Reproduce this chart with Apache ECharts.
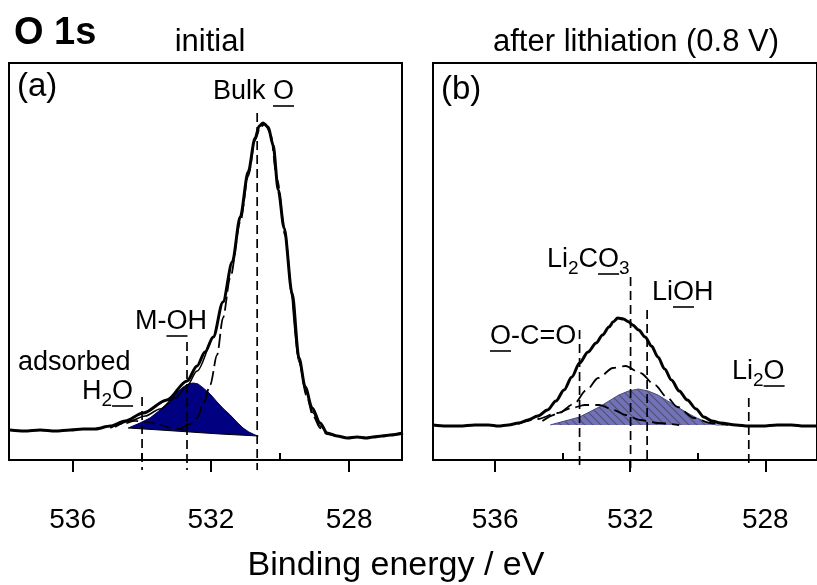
<!DOCTYPE html>
<html><head><meta charset="utf-8">
<script src="https://cdn.jsdelivr.net/npm/echarts@6/dist/echarts.min.js"></script>
<style>html,body{margin:0;padding:0;background:#fff;}#c{width:817px;height:585px;}</style>
</head><body><div id="c"></div>
<script>
// ---------- data: [binding energy (eV), intensity (a.u.)] ----------
const majorTicks = [528, 532, 536];
const minorTicks = [530, 534];

// panel (a) initial
const envA = [[537.81,7.56],[537.40,7.30],[536.94,7.56],[536.50,7.30],[536.07,7.56],[535.70,7.81],[535.35,7.81],[534.91,8.56],[534.48,9.82],[533.96,11.84],[533.27,15.11],[532.69,19.90],[532.40,23.68],[532.17,27.20],[531.93,30.98],[531.65,39.80],[531.38,49.87],[531.15,61.21],[530.92,72.54],[530.72,81.11],[530.60,84.13],[530.49,84.89],[530.34,83.88],[530.20,79.35],[530.05,68.01],[529.88,58.44],[529.65,42.07],[529.45,25.69],[529.27,18.39],[529.07,13.10],[528.84,9.32],[528.64,6.80],[528.35,6.05],[528.05,5.54],[527.77,5.79],[527.50,5.54],[527.31,5.79],[527.05,6.05],[526.81,6.30],[526.44,6.80]];
const bulkA = [[532.89,7.81],[532.60,9.07],[532.40,10.58],[532.22,14.11],[532.02,18.89],[531.82,26.45],[531.65,35.77],[531.44,45.84],[531.15,59.95],[530.92,71.54],[530.72,80.60],[530.57,83.88],[530.43,84.63],[530.28,82.37],[530.08,70.53],[529.85,56.68],[529.65,41.31],[529.45,25.19],[529.24,16.37],[529.04,11.08],[528.84,8.06],[528.64,6.55],[528.40,6.05]];
const mohA = [[534.39,8.06],[534.05,9.32],[533.76,10.58],[533.47,12.59],[533.28,14.11],[533.09,15.87],[532.95,17.13],[532.80,18.39],[532.65,19.15],[532.51,19.40],[532.37,19.15],[532.22,18.14],[532.02,16.62],[531.82,14.61],[531.63,12.85],[531.44,11.34],[531.25,9.57],[531.07,8.06],[530.90,7.05],[530.72,6.30],[530.63,6.05]];
const bgA = [[534.39,8.06],[533.47,7.56],[532.60,7.05],[531.73,6.55],[530.63,6.05]];
const h2oA = [[534.91,8.06],[534.57,9.07],[534.19,9.82],[533.82,9.57],[533.47,8.82],[533.12,8.06],[532.74,7.56]];
const fitA1 = [[534.77,8.31],[534.34,9.82],[533.90,11.08],[533.47,12.85],[533.03,15.62],[532.69,18.64],[532.40,22.42],[532.11,27.71]];
const fitA2 = [[529.65,41.31],[529.45,24.69],[529.24,17.13],[529.04,11.84],[528.84,8.56],[528.64,6.80]];
const vH2O = [[533.99,15.87],[533.99,-2.52]];
const vMOH = [[532.69,29.72],[532.69,-2.52]];
const vBulk = [[530.66,87.41],[530.66,-2.52]];

// panel (b) after lithiation
const envB = [[537.84,8.82],[537.45,8.56],[537.06,8.56],[536.60,8.82],[536.19,8.82],[535.90,8.56],[535.61,8.82],[535.30,9.32],[535.03,10.08],[534.74,11.08],[534.45,12.59],[534.20,14.86],[533.96,17.63],[533.73,20.90],[533.50,24.43],[533.25,27.20],[533.01,29.47],[532.82,31.50],[532.63,33.50],[532.50,34.80],[532.37,35.77],[532.20,35.52],[532.05,34.80],[531.93,34.01],[531.75,32.75],[531.56,30.98],[531.37,28.70],[531.18,25.94],[530.98,22.92],[530.78,20.15],[530.55,17.38],[530.31,15.11],[530.05,12.85],[529.82,10.83],[529.58,9.82],[529.33,9.32],[528.87,8.82],[528.50,8.56],[528.09,8.56],[527.65,8.82],[527.22,8.82],[526.85,8.56],[526.47,8.56]];
const lioB = [[534.37,8.82],[534.16,9.32],[533.82,10.08],[533.50,10.83],[533.21,12.09],[532.92,13.35],[532.63,14.86],[532.34,16.37],[532.05,17.38],[531.76,17.88],[531.47,17.38],[531.18,16.37],[530.89,14.86],[530.60,13.35],[530.31,11.84],[530.03,10.58],[529.74,9.57],[529.45,8.82],[529.24,8.82]];
const bgB = [[534.37,8.82],[529.24,8.82]];
const co3B = [[534.60,9.82],[534.16,11.59],[533.67,14.11],[533.29,17.63],[532.95,20.65],[532.51,23.17],[532.14,23.68],[531.70,21.91],[531.27,18.89],[530.92,15.87],[530.60,13.35],[530.11,10.58],[529.62,9.32],[529.10,8.82]];
const ocoB = [[535.32,9.07],[534.74,10.33],[534.16,11.84],[533.73,13.10],[533.35,13.85],[532.92,13.85],[532.48,12.59],[532.14,11.34],[531.70,10.08],[531.18,9.32],[530.55,8.82]];
const vOCO = [[533.50,32.75],[533.50,-2.52]];
const vCO3 = [[531.99,46.10],[531.99,-2.52]];
const vLiOH = [[531.50,37.78],[531.50,-0.5]];
const vLi2O = [[528.49,15.62],[528.49,-1.26]];

// ---------- rendering ----------
const F = '"Liberation Sans", Arial, Helvetica, sans-serif';
const chart = echarts.init(document.getElementById('c'), null, {renderer: 'canvas'});

function hatch() {
  const c = document.createElement('canvas'); c.width = 8; c.height = 8;
  const g = c.getContext('2d');
  g.fillStyle = '#7272b8'; g.fillRect(0, 0, 8, 8);
  g.strokeStyle = 'rgba(70,70,95,0.75)'; g.lineWidth = 1.2;
  g.beginPath();
  g.moveTo(-4, 4); g.lineTo(4, 12);
  g.moveTo(0, 0); g.lineTo(8, 8);
  g.moveTo(4, -4); g.lineTo(12, 4);
  g.stroke();
  return c;
}

function ln(xi, yi, data, style, extra) {
  return Object.assign({
    type: 'line', xAxisIndex: xi, yAxisIndex: yi, data: data, symbol: 'none',
    silent: true, smooth: 0.3, smoothMonotone: 'x', lineStyle: style, z: 3
  }, extra || {});
}
function vline(xi, yi, data) {
  return ln(xi, yi, data, {color: '#000', width: 1.7, type: [9, 5]}, {smooth: false, clip: false, z: 4});
}
// filled band between a component curve and its background, through the axis scales
function band(xi, yi, top, bottom, fill) {
  return {
    type: 'custom', xAxisIndex: xi, yAxisIndex: yi, silent: true, z: 2,
    data: [top[0]],
    renderItem: function (params, api) {
      const pts = top.map(p => api.coord(p)).concat(bottom.slice().reverse().map(p => api.coord(p)));
      return {type: 'polygon', shape: {points: pts}, style: {fill: fill, stroke: null}};
    }
  };
}

function makeXAxes(gi) {
  return [{
    gridIndex: gi, type: 'value', inverse: true, min: 526.47, max: 537.84, z: 10,
    splitLine: {show: false},
    axisLine: {show: true, onZero: false, lineStyle: {color: '#000', width: 2}},
    axisTick: {show: true, customValues: majorTicks, length: 12, lineStyle: {color: '#000', width: 2}},
    axisLabel: {show: true, customValues: majorTicks, fontSize: 28, fontFamily: F, color: '#000', margin: 46}
  }, {
    gridIndex: gi, type: 'value', inverse: true, min: 526.47, max: 537.84, z: 10,
    splitLine: {show: false},
    axisLine: {show: false},
    axisTick: {show: true, customValues: minorTicks, length: 7, lineStyle: {color: '#000', width: 2}},
    axisLabel: {show: false}
  }];
}

const ctx = document.createElement('canvas').getContext('2d');
function tw(t, size) { ctx.font = size + 'px ' + F; return ctx.measureText(t).width; }
const ANN = 27, SUB = 19;
function annot(parts, x, cy) {
  let str = '', cx = x; const out = [];
  parts.forEach(([t, k]) => {
    const size = k === 's' ? SUB : ANN;
    const w = tw(t, size);
    str += '{' + (k === 's' ? 's' : 'n') + '|' + t + '}';
    if (k === 'u') out.push({type: 'line', silent: true, shape: {x1: cx, y1: cy + 14, x2: cx + w, y2: cy + 14}, style: {stroke: '#000', lineWidth: 1.6}});
    cx += w;
  });
  out.unshift({
    type: 'text', x: x, y: cy, silent: true,
    style: {
      text: str, textAlign: 'left', align: 'left', textVerticalAlign: 'middle', verticalAlign: 'middle',
      rich: {
        n: {fontSize: ANN, fontFamily: F, fill: '#000', color: '#000', lineHeight: 36},
        s: {fontSize: SUB, fontFamily: F, fill: '#000', color: '#000', lineHeight: 20, verticalAlign: 'bottom'}
      }
    }
  });
  return out;
}
function txt(t, x, cy, size, align, bold) {
  return {type: 'text', x: x, y: cy, silent: true, style: {
    text: t, font: (bold ? 'bold ' : '') + size + 'px ' + F, fill: '#000',
    textAlign: align, align: align, textVerticalAlign: 'middle', verticalAlign: 'middle'}};
}

const graphics = [].concat(
  [txt('O 1s', 14, 34, 38, 'left', true),
   txt('initial', 210, 42, 31, 'center'),
   txt('after lithiation (0.8 V)', 636, 42, 31, 'center'),
   txt('(a)', 17, 87, 33, 'left'),
   txt('(b)', 441, 90, 33, 'left'),
   txt('Binding energy / eV', 396, 566, 34, 'center'),
   txt('adsorbed', 18, 363, ANN, 'left')],
  annot([['Bulk ', 'n'], ['O', 'u']], 213, 92),
  annot([['M-', 'n'], ['O', 'u'], ['H', 'n']], 135, 322),
  annot([['H', 'n'], ['2', 's'], ['O', 'u']], 82, 392),
  annot([['O', 'u'], ['-C=O', 'n']], 490, 337),
  annot([['Li', 'n'], ['2', 's'], ['C', 'n'], ['O', 'u'], ['3', 's']], 547, 260),
  annot([['Li', 'n'], ['O', 'u'], ['H', 'n']], 652, 293),
  annot([['Li', 'n'], ['2', 's'], ['O', 'u']], 732, 372)
);

const option = {
  animation: false,
  backgroundColor: '#fff',
  grid: [
    {left: 9, right: 415, top: 63, bottom: 125, show: true, borderColor: '#000', borderWidth: 2, backgroundColor: 'transparent'},
    {left: 433, right: -9, top: 63, bottom: 125, show: true, borderColor: '#000', borderWidth: 2, backgroundColor: 'transparent'}
  ],
  xAxis: makeXAxes(0).concat(makeXAxes(1)),
  yAxis: [
    {gridIndex: 0, type: 'value', min: 0, max: 100, show: false},
    {gridIndex: 1, type: 'value', min: 0, max: 100, show: false}
  ],
  series: [
    // panel (a)
    band(0, 0, mohA, bgA, '#000080'),
    ln(0, 0, mohA, {color: '#000050', width: 1}, {smooth: false}),
    ln(0, 0, bgA, {color: '#000', width: 1.2}, {smooth: false}),
    ln(0, 0, h2oA, {color: '#000', width: 1.6, type: [12, 5]}),
    ln(0, 0, bulkA, {color: '#000', width: 1.8, type: [14, 5]}),
    ln(0, 0, fitA1, {color: '#000', width: 1.6}),
    ln(0, 0, fitA2, {color: '#000', width: 1.6}),
    ln(0, 0, envA, {color: '#000', width: 3}, {z: 4}),
    vline(0, 0, vH2O), vline(0, 0, vMOH), vline(0, 0, vBulk),
    // panel (b)
    band(2, 1, lioB, bgB, {image: hatch(), repeat: 'repeat'}),
    ln(2, 1, lioB, {color: '#4a4a80', width: 1}, {smooth: false}),
    ln(2, 1, co3B, {color: '#000', width: 1.8, type: [14, 6]}),
    ln(2, 1, ocoB, {color: '#000', width: 1.8, type: [14, 6]}),
    ln(2, 1, envB, {color: '#000', width: 3}, {z: 4}),
    vline(2, 1, vOCO), vline(2, 1, vCO3), vline(2, 1, vLiOH), vline(2, 1, vLi2O)
  ],
  graphic: {elements: graphics}
};
chart.setOption(option);
</script>
</body></html>
